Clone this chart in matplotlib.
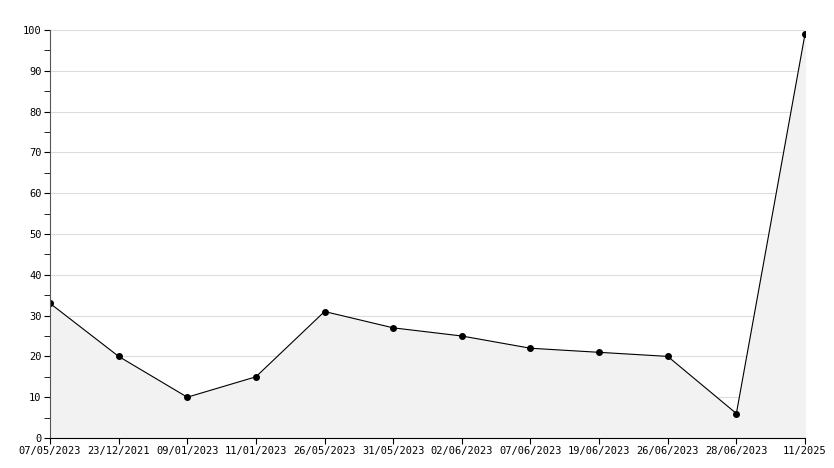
import matplotlib
matplotlib.use("Agg")
import matplotlib.pyplot as plt
from matplotlib.ticker import MultipleLocator

labels = ["07/05/2023", "23/12/2021", "09/01/2023", "11/01/2023", "26/05/2023", "31/05/2023",
          "02/06/2023", "07/06/2023", "19/06/2023", "26/06/2023", "28/06/2023", "11/2025"]
values = [33, 20, 10, 15, 31, 27, 25, 22, 21, 20, 6, 99]

fig = plt.figure(figsize=(8.34, 4.68), dpi=100)
ax = fig.add_axes([50 / 834, 30 / 468, 755 / 834, 408 / 468])
x = list(range(len(values)))
ax.fill_between(x, values, 0, color="#f2f2f2")
ax.plot(x, values, color="black", lw=0.8, marker="o", ms=4)
ax.set_xlim(0, len(values) - 1)
ax.set_ylim(0, 100)
ax.set_xticks(x)
ax.set_xticklabels(labels)
ax.yaxis.set_major_locator(MultipleLocator(10))
ax.yaxis.set_minor_locator(MultipleLocator(5))
ax.grid(axis="y", color="#dddddd", lw=0.8)
ax.set_axisbelow(True)
for s in ["top", "right"]:
    ax.spines[s].set_visible(False)
ax.spines["left"].set_color("#555555")
ax.spines["bottom"].set_color("black")
ax.tick_params(labelsize=7.5, length=4, pad=2)
ax.tick_params(which="minor", length=4)
for t in ax.get_xticklabels() + ax.get_yticklabels():
    t.set_family("DejaVu Sans Mono")
fig.savefig("out.png", dpi=100)
